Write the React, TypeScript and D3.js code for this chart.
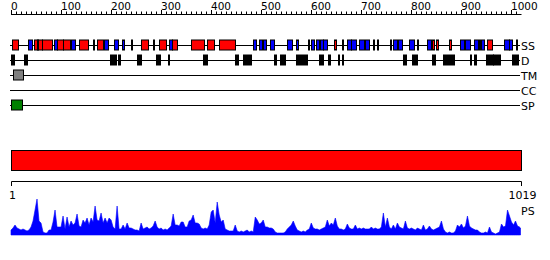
import React from 'react';
import * as d3 from 'd3';

const SEQ_LENGTH = 1019;
const rulerLabels = [0, 100, 200, 300, 400, 500, 600, 700, 800, 900, 1000];
const rowLabels = ['SS', 'D', 'TM', 'CC', 'SP'];

const helixSegments: [number, number][] = [
  [3, 15], [47, 52], [55, 62], [63, 83], [93, 105], [105, 119], [137, 155], [173, 185],
  [261, 275], [297, 311], [323, 333], [361, 387], [393, 407], [417, 449], [647, 651],
  [843, 847], [851, 855], [877, 881], [937, 939], [953, 963],
];
const strandSegments: [number, number][] = [
  [35, 43], [52, 55], [87, 93], [121, 129], [187, 195], [207, 215], [223, 227], [317, 323],
  [485, 491], [497, 503], [505, 511], [519, 527], [553, 563], [571, 575], [601, 607],
  [611, 617], [619, 625], [625, 633], [673, 681], [681, 691], [697, 707], [709, 717],
  [765, 773], [775, 783], [797, 807], [833, 841], [899, 907], [909, 919], [927, 935],
  [941, 947], [987, 997], [997, 1003],
];
const shortSegments: [number, number][] = [
  [164, 165], [241, 242], [285, 286], [595, 596], [663, 664], [725, 726], [733, 734],
  [759, 760], [813, 814], [1011, 1012],
];
const disorderSegments: [number, number][] = [
  [1, 7], [27, 33], [199, 211], [215, 219], [253, 261], [291, 299], [315, 316], [385, 393],
  [449, 455], [465, 481], [527, 531], [539, 549], [571, 593], [617, 625], [635, 639],
  [655, 657], [663, 665], [785, 791], [803, 813], [843, 849], [865, 887], [919, 921],
  [927, 931], [951, 965], [965, 979], [1003, 1015],
];
const tmSegments: [number, number][] = [[4, 25]];
const spSegments: [number, number][] = [[1, 22]];
const domainSegments: [number, number][] = [[1, 1019]];

// PS profile sampled every 4 residues
const psValues = [
  5, 7, 10, 7, 6, 5, 6, 5, 4, 5,
  8, 14, 25, 36, 14, 12, 3, 2, 2, 5,
  5, 13, 25, 8, 8, 8, 19, 6, 18, 8,
  14, 10, 12, 21, 9, 8, 15, 12, 17, 10,
  17, 13, 29, 15, 14, 22, 12, 17, 12, 17,
  15, 8, 6, 29, 6, 6, 10, 6, 12, 7,
  7, 6, 5, 5, 4, 12, 6, 7, 8, 6,
  7, 9, 14, 8, 6, 7, 5, 6, 5, 7,
  9, 21, 10, 10, 9, 13, 13, 8, 8, 14,
  15, 20, 12, 12, 11, 7, 6, 7, 6, 10,
  23, 25, 12, 33, 20, 13, 15, 6, 5, 4,
  4, 4, 10, 4, 3, 4, 3, 4, 5, 3,
  4, 3, 18, 15, 11, 12, 15, 8, 8, 7,
  7, 6, 3, 2, 2, 2, 2, 3, 6, 8,
  10, 14, 9, 5, 4, 3, 4, 3, 5, 6,
  12, 7, 6, 6, 5, 6, 7, 8, 15, 9,
  12, 10, 17, 9, 6, 6, 5, 6, 11, 7,
  6, 6, 10, 6, 7, 6, 7, 6, 6, 6,
  8, 6, 7, 6, 6, 8, 22, 8, 17, 8,
  6, 10, 6, 12, 8, 7, 6, 14, 7, 6,
  7, 6, 5, 7, 6, 5, 10, 5, 6, 9,
  6, 5, 6, 7, 8, 14, 6, 3, 2, 3,
  2, 2, 4, 10, 8, 11, 7, 9, 19, 9,
  7, 6, 5, 5, 3, 2, 2, 3, 2, 8,
  3, 2, 1, 2, 3, 11, 8, 9, 25, 19,
  13, 10, 14, 9, 8, 7,
];
const PS_STEP = 4;

const FONT = '"DejaVu Sans", Verdana, sans-serif';

export default function App() {
  const xs = d3.scaleLinear().domain([0, SEQ_LENGTH]).range([10.5, 520.5]);
  const ys = d3.scaleLinear().domain([0, 40]).range([235, 195]);
  const px = (v: number) => Math.round(xs(v)) + 0.5;

  const rowY = [45, 60, 75, 90, 105];

  const boxes = (segs: [number, number][], cy: number, h: number, fill: string, key: string) =>
    segs.map(([s, e], i) => {
      const x0 = px(s);
      const x1 = px(e);
      return (
        <rect
          key={key + i}
          x={x0}
          y={cy - h / 2}
          width={Math.max(1, x1 - x0)}
          height={h}
          fill={fill}
          stroke="#000"
          strokeWidth={1}
        />
      );
    });

  const ticks = d3.range(0, SEQ_LENGTH, 10);

  const psPts = psValues.map((v, i) => [Math.min(1 + i * PS_STEP, SEQ_LENGTH), v] as [number, number]);
  const area = d3
    .area<[number, number]>()
    .x((d) => xs(d[0]))
    .y0(ys(0))
    .y1((d) => ys(d[1]));

  return (
    <div style={{ position: 'fixed', left: 0, top: 0 }}>
      <style>{'body{margin:0;background:#fff}'}</style>
      <svg width={550} height={260} style={{ display: 'block', background: '#fff' }}>
        {/* top ruler */}
        <line x1={px(0) - 0.5} x2={px(SEQ_LENGTH)} y1={14.5} y2={14.5} stroke="#000" />
        {ticks.map((t) => (
          <line key={'t' + t} x1={px(t)} x2={px(t)} y1={t % 100 === 0 ? 10 : 11.5} y2={14.5} stroke="#000" />
        ))}
        {rulerLabels.map((t) => (
          <text key={'l' + t} x={px(t) - 0.5} y={10} fontSize={10.5} fontFamily={FONT} fill="#000">
            {t}
          </text>
        ))}

        {/* row lines */}
        {rowY.map((y, i) => (
          <g key={'row' + i}>
            <line x1={10} x2={520} y1={y + 0.5} y2={y + 0.5} stroke="#000" />
            <text x={521} y={y + 4.5} fontSize={11} fontFamily={FONT} fill="#000">
              {rowLabels[i]}
            </text>
          </g>
        ))}

        {boxes(helixSegments, 45, 10, '#ff0000', 'h')}
        {boxes(strandSegments, 45, 10, '#0000ff', 's')}
        {boxes(shortSegments, 45, 10, '#000000', 'x')}
        {boxes(disorderSegments, 60, 10, '#000000', 'd')}
        {boxes(tmSegments, 75, 10, '#808080', 'tm')}
        {boxes(spSegments, 105, 10, '#008000', 'sp')}

        {/* domain bar */}
        {domainSegments.map(([s, e], i) => (
          <rect key={'dom' + i} x={px(s - 1)} y={150.5} width={px(e) - px(s - 1)} height={20} fill="#ff0000" stroke="#000" />
        ))}

        {/* bottom ruler */}
        <line x1={px(0)} x2={px(SEQ_LENGTH)} y1={181.5} y2={181.5} stroke="#000" />
        <line x1={px(0)} x2={px(0)} y1={181.5} y2={186} stroke="#000" />
        <line x1={px(SEQ_LENGTH)} x2={px(SEQ_LENGTH)} y1={181.5} y2={186} stroke="#000" />
        <text x={px(0) + 1} y={199} fontSize={11} fontFamily={FONT} textAnchor="middle" fill="#000">1</text>
        <text x={px(SEQ_LENGTH) + 1} y={199} fontSize={11} fontFamily={FONT} textAnchor="middle" fill="#000">
          {SEQ_LENGTH}
        </text>
        <text x={521} y={215} fontSize={11} fontFamily={FONT} fill="#000">PS</text>

        {/* PS profile */}
        <path d={area(psPts) || ''} fill="#0000ff" stroke="#0000ff" strokeWidth={0.6} />
      </svg>
    </div>
  );
}
